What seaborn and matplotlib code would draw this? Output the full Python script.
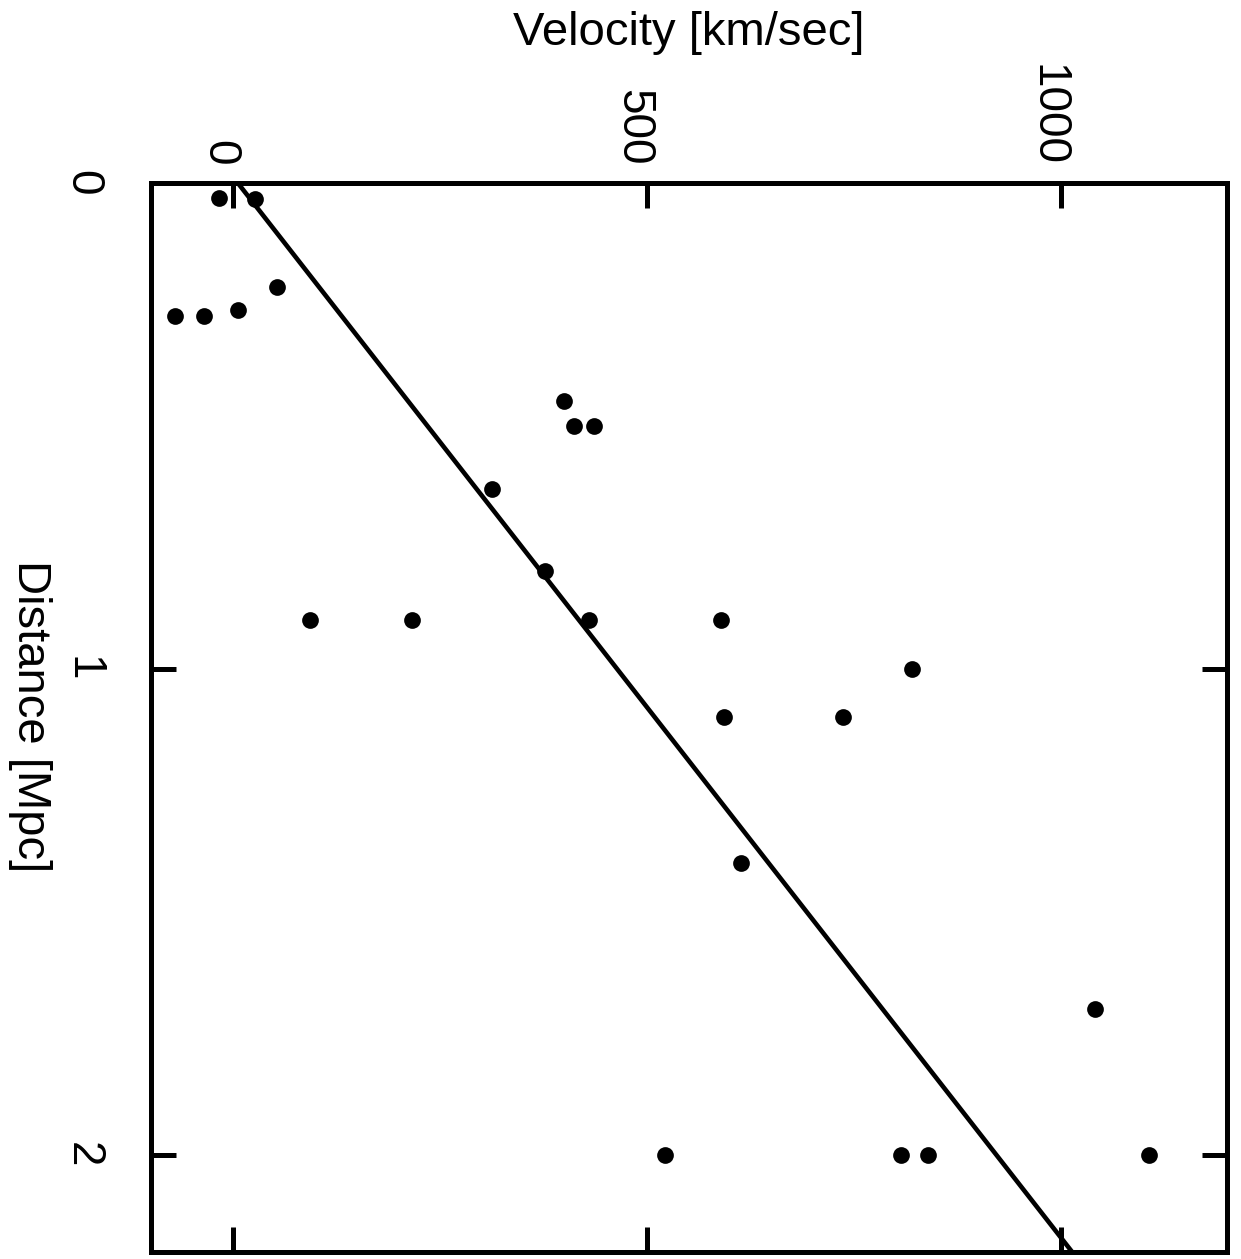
import matplotlib
matplotlib.use("Agg")
import matplotlib.pyplot as plt
import matplotlib.transforms as mtransforms
import numpy as np
import pandas as pd
import seaborn as sns

# ---- data ----
distance_mpc = [0.032, 0.034, 0.214, 0.263, 0.275, 0.275, 0.45, 0.5, 0.5, 0.63,
                0.8, 0.9, 0.9, 0.9, 0.9, 1.0, 1.1, 1.1, 1.4, 1.7,
                2.0, 2.0, 2.0, 2.0]
velocity_kms = [-17, 26, 53, 6, -70, -35, 399, 411, 435, 312,
                377, 93, 216, 430, 589, 819, 592, 736, 613, 1040,
                521, 806, 839, 1106]

fit_distance = [0.0, 2.2]
fit_velocity = [5, 1013]

velocity_ticks = [0, 500, 1000]
velocity_tick_labels = ["0", "500", "1000"]
distance_ticks = [0, 1, 2]
distance_tick_labels = ["0", "1", "2"]

points = pd.DataFrame({"distance": distance_mpc, "velocity": velocity_kms})
fit = pd.DataFrame({"distance": fit_distance, "velocity": fit_velocity})

# ---- style ----
sns.set_style("ticks")
plt.rcParams["font.family"] = ["Liberation Sans", "DejaVu Sans"]
plt.rcParams["text.color"] = "black"
plt.rcParams["axes.labelcolor"] = "black"
plt.rcParams["xtick.color"] = "black"
plt.rcParams["ytick.color"] = "black"
plt.rcParams["axes.edgecolor"] = "black"

W, H = 1241, 1259
fig = plt.figure(figsize=(W / 100, H / 100), dpi=100)
left, right, top, bottom = 150.5, 1227.0, 182.5, 1252.0
ax = fig.add_axes([left / W, 1 - bottom / H, (right - left) / W, (bottom - top) / H])

# Rotated chart: velocity runs horizontally, distance runs downward
sns.lineplot(data=fit, x="velocity", y="distance", color="black", linewidth=3.3,
             sort=False, ax=ax, zorder=3)
sns.scatterplot(data=points, x="velocity", y="distance", color="black", s=145,
                linewidth=0, ax=ax, zorder=4)

ax.set_xlim(-100, 1200)
ax.set_ylim(2.2, 0)

for sp in ax.spines.values():
    sp.set_visible(True)
    sp.set_linewidth(3.6)
    sp.set_color("black")

ax.set_xticks(velocity_ticks)
ax.set_xticklabels(velocity_tick_labels, rotation=-90, fontsize=33, color="black")
ax.set_yticks(distance_ticks)
ax.set_yticklabels(distance_tick_labels, rotation=-90, fontsize=33, va="center",
                   color="black")

ax.tick_params(axis="both", direction="in", length=18, width=3.6, color="black",
               labelcolor="black", top=True, bottom=True, left=True, right=True)
ax.tick_params(axis="x", labeltop=True, labelbottom=False, pad=12)
ax.tick_params(axis="y", labelleft=True, labelright=False, pad=33)

shift = mtransforms.ScaledTranslation(-0.14, 0, fig.dpi_scale_trans)
for lbl in ax.get_xticklabels():
    lbl.set_transform(lbl.get_transform() + shift)

ax.xaxis.set_label_position("top")
ax.set_xlabel("Velocity [km/sec]", fontsize=34, va="center", color="black")
ax.xaxis.set_label_coords(0.5, 1 + (top - 33) / (bottom - top))
ax.set_ylabel("Distance [Mpc]", fontsize=34, rotation=-90, va="center", ha="center",
              color="black")
ax.yaxis.set_label_coords((30 - left) / (right - left), 1 - (716 - top) / (bottom - top))

fig.savefig("out.png", dpi=100, facecolor="white")
